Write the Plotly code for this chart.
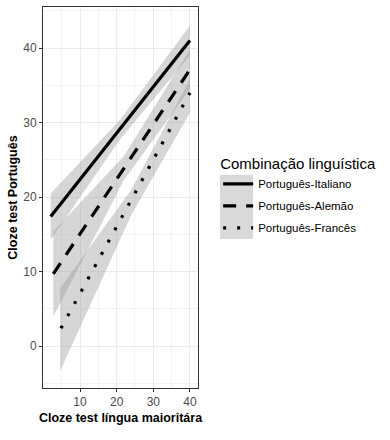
import plotly.graph_objects as go

# Data
series = ["Português-Italiano", "Português-Alemão", "Português-Francês"]
line_x = [[2.0, 40.0], [2.7, 40.0], [4.8, 40.0]]
line_y = [[17.4, 41.0], [9.7, 37.1], [2.4, 34.0]]
band_x = [[2.0, 21.0, 40.0], [2.7, 22.0, 40.0], [4.6, 24.0, 40.0]]
band_lo = [[14.3, 27.8, 39.0], [4.0, 22.3, 34.5], [-3.3, 17.6, 31.3]]
band_hi = [[20.5, 30.4, 43.0], [15.4, 25.5, 39.8], [7.8, 21.0, 35.8]]
dashes = ["solid", "13px,10px", "3px,11px"]

x_ticks = [10, 20, 30, 40]
y_ticks = [0, 10, 20, 30, 40]

fig = go.Figure()
for i in range(3):
    bx = band_x[i] + band_x[i][::-1]
    by = band_hi[i] + band_lo[i][::-1]
    fig.add_trace(go.Scatter(x=bx, y=by, fill="toself", mode="lines",
                             line=dict(width=0), fillcolor="rgba(153,153,153,0.4)",
                             hoverinfo="skip", showlegend=False))
for i in range(3):
    fig.add_trace(go.Scatter(x=line_x[i], y=line_y[i], mode="lines", name=series[i],
                             legendgroup=f"g{i}",
                             line=dict(color="black", width=3.2, dash=dashes[i])))

grid = "#EBEBEB"
fig.update_layout(
    width=390, height=440,
    margin=dict(l=43, r=192, t=7, b=52, autoexpand=False),
    plot_bgcolor="white", paper_bgcolor="white",
    font=dict(family="Liberation Sans, Arial, sans-serif", color="#4D4D4D", size=11),
    xaxis=dict(range=[-0.1, 42.2], tickvals=x_ticks, showgrid=True, gridcolor=grid, automargin=False,
               gridwidth=1, minor=dict(tickvals=[5, 15, 25, 35], showgrid=True, gridcolor="#F3F3F3", gridwidth=0.6),
               zeroline=False, showline=True, linecolor="#333333", linewidth=1, mirror=True,
               ticks="outside", ticklen=3, tickcolor="#333333",
               tickfont=dict(size=12, color="#4D4D4D"),
               title=dict(text="<b>Cloze test língua maioritára</b>", font=dict(size=12.5, color="black"), standoff=4)),
    yaxis=dict(range=[-5.6, 45.5], tickvals=y_ticks, showgrid=True, gridcolor=grid, automargin=False,
               gridwidth=1, minor=dict(tickvals=[-5, 5, 15, 25, 35, 45], showgrid=True, gridcolor="#F3F3F3", gridwidth=0.6),
               zeroline=False, showline=True, linecolor="#333333", linewidth=1, mirror=True,
               ticks="outside", ticklen=3, tickcolor="#333333",
               tickfont=dict(size=12, color="#4D4D4D"),
               title=dict(text="<b>Cloze test Português</b>", font=dict(size=12.5, color="black"), standoff=2)),
    legend=dict(x=1.13, y=0.625, xanchor="left", yanchor="top", bgcolor="rgba(0,0,0,0)",
                title=dict(text="Combinação linguística", font=dict(size=15, color="black")),
                font=dict(size=11.5, color="black"), itemwidth=30, tracegroupgap=3),
    shapes=[dict(type="rect", xref="paper", yref="paper", x0=1.142, x1=1.355, y0=0.391, y1=0.56,
                 fillcolor="#D9D9D9", line=dict(width=0), layer="below")],
)
fig.write_html("out.html", config={"displayModeBar": False},
               post_script="document.body.style.margin='0';document.body.style.padding='0';")
